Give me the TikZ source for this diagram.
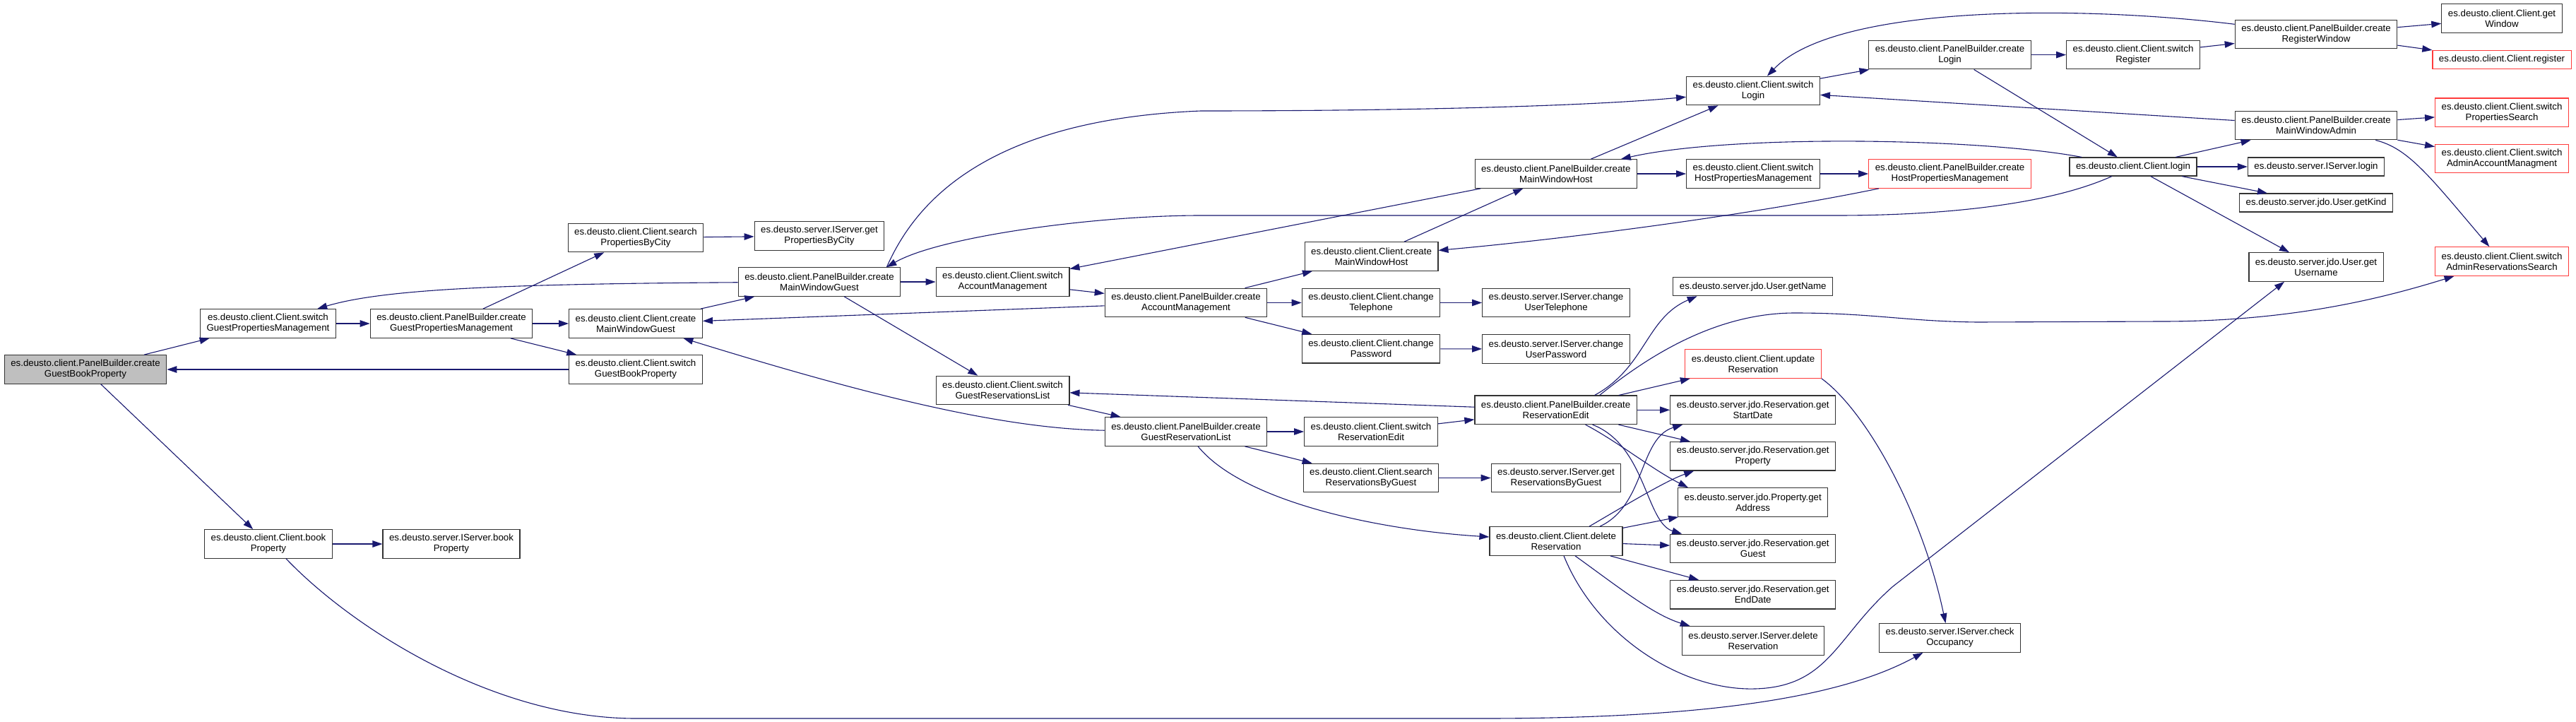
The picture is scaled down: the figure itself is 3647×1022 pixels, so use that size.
\documentclass[tikz,border=0pt]{standalone}
\usepackage{fontspec}
\setmainfont{Liberation Sans}
\usepackage{tikz}
\usetikzlibrary{arrows.meta}
\usepackage{xcolor}
\definecolor{callblue}{HTML}{191970}
\definecolor{linkred}{HTML}{FF3B3B}
\definecolor{rootgray}{HTML}{BFBFBF}
\definecolor{frame}{HTML}{333333}
\tikzset{
  fn/.style={draw=frame,fill=white,line width=1.2pt,align=center,
    font=\fontsize{13.3}{15}\selectfont,inner xsep=9pt,inner ysep=2pt,minimum height=40.5pt},
  fnone/.style={fn,minimum height=26pt},
  fnroot/.style={fn,fill=rootgray},
  fnmissing/.style={fn,draw=linkred},
  call/.style={-{Triangle[length=14pt,width=9.5pt]},draw=callblue,line width=1.1pt}
}

\begin{document}
\begin{tikzpicture}[x=1pt,y=-1pt]
  \path[fill=white] (0,0) rectangle (3647,1022);
  \useasboundingbox (0,0) rectangle (3647,1022);

  \node[fnroot] (pbGuestBook) at (121,523) {es.deusto.client.PanelBuilder.create\\GuestBookProperty};
  \node[fn] (swGuestProps) at (379.5,458) {es.deusto.client.Client.switch\\GuestPropertiesManagement};
  \node[fn] (pbGuestProps) at (639,458) {es.deusto.client.PanelBuilder.create\\GuestPropertiesManagement};
  \node[fn] (searchCity) at (900,336.5) {es.deusto.client.Client.search\\PropertiesByCity};
  \node[fn] (crGuest) at (900,458) {es.deusto.client.Client.create\\MainWindowGuest};
  \node[fn] (swGuestBook) at (900,523) {es.deusto.client.Client.switch\\GuestBookProperty};
  \node[fn] (bookProp) at (380,770) {es.deusto.client.Client.book\\Property};
  \node[fn] (srvBook) at (639,770) {es.deusto.server.IServer.book\\Property};
  \node[fn] (srvCity) at (1160,334) {es.deusto.server.IServer.get\\PropertiesByCity};
  \node[fn] (pbGuest) at (1160,399) {es.deusto.client.PanelBuilder.create\\MainWindowGuest};
  \node[fn] (swAccount) at (1419.5,399) {es.deusto.client.Client.switch\\AccountManagement};
  \node[fn] (pbAccount) at (1679,428.5) {es.deusto.client.PanelBuilder.create\\AccountManagement};
  \node[fn] (crHost) at (1941.5,363) {es.deusto.client.Client.create\\MainWindowHost};
  \node[fn] (chTel) at (1941,428.5) {es.deusto.client.Client.change\\Telephone};
  \node[fn] (chPass) at (1941,493.7) {es.deusto.client.Client.change\\Password};
  \node[fn] (swGuestRes) at (1419.5,552.5) {es.deusto.client.Client.switch\\GuestReservationsList};
  \node[fn] (pbGuestRes) at (1679,611) {es.deusto.client.PanelBuilder.create\\GuestReservationList};
  \node[fn] (swResEdit) at (1941,611) {es.deusto.client.Client.switch\\ReservationEdit};
  \node[fn] (searchRes) at (1941,676.5) {es.deusto.client.Client.search\\ReservationsByGuest};
  \node[fn] (srvResGuest) at (2203,676.5) {es.deusto.server.IServer.get\\ReservationsByGuest};
  \node[fn] (pbResEdit) at (2202.6,580.3) {es.deusto.client.PanelBuilder.create\\ReservationEdit};
  \node[fn] (delRes) at (2203,766) {es.deusto.client.Client.delete\\Reservation};
  \node[fn] (swLogin) at (2482,128.5) {es.deusto.client.Client.switch\\Login};
  \node[fn] (pbLogin) at (2760.5,77.6) {es.deusto.client.PanelBuilder.create\\Login};
  \node[fn] (pbHost) at (2202.8,246) {es.deusto.client.PanelBuilder.create\\MainWindowHost};
  \node[fn] (swHostProps) at (2482,246) {es.deusto.client.Client.switch\\HostPropertiesManagement};
  \node[fnmissing] (pbHostProps) at (2760.5,246) {es.deusto.client.PanelBuilder.create\\HostPropertiesManagement};
  \node[fnone] (login) at (3020,236) {es.deusto.client.Client.login};
  \node[fn] (swRegister) at (3020,77.6) {es.deusto.client.Client.switch\\Register};
  \node[fn] (pbRegister) at (3279,48.5) {es.deusto.client.PanelBuilder.create\\RegisterWindow};
  \node[fn] (getWindow) at (3542,26) {es.deusto.client.Client.get\\Window};
  \node[fnmissing,fnone,draw=linkred] (register) at (3542,84.3) {es.deusto.client.Client.register};
  \node[fn] (pbAdmin) at (3279,177.6) {es.deusto.client.PanelBuilder.create\\MainWindowAdmin};
  \node[fnmissing] (swPropSearch) at (3542,159.3) {es.deusto.client.Client.switch\\PropertiesSearch};
  \node[fnmissing] (swAdminAcc) at (3542,224.6) {es.deusto.client.Client.switch\\AdminAccountManagment};
  \node[fnone] (srvLogin) at (3279,236) {es.deusto.server.IServer.login};
  \node[fnone] (getKind) at (3279,287) {es.deusto.server.jdo.User.getKind};
  \node[fn] (getUsername) at (3279,378) {es.deusto.server.jdo.User.get\\Username};
  \node[fnmissing] (swAdminRes) at (3542,370) {es.deusto.client.Client.switch\\AdminReservationsSearch};
  \node[fn] (srvTel) at (2203,428.5) {es.deusto.server.IServer.change\\UserTelephone};
  \node[fn] (srvPass) at (2203,494) {es.deusto.server.IServer.change\\UserPassword};
  \node[fnone] (getName) at (2481.7,405.7) {es.deusto.server.jdo.User.getName};
  \node[fnmissing] (updRes) at (2482,515) {es.deusto.client.Client.update\\Reservation};
  \node[fn] (getStart) at (2481.7,580.3) {es.deusto.server.jdo.Reservation.get\\StartDate};
  \node[fn] (getProp) at (2481.7,645.8) {es.deusto.server.jdo.Reservation.get\\Property};
  \node[fn] (getAddr) at (2481.7,711) {es.deusto.server.jdo.Property.get\\Address};
  \node[fn] (getGuest) at (2481.7,776.5) {es.deusto.server.jdo.Reservation.get\\Guest};
  \node[fn] (getEnd) at (2481.7,841.7) {es.deusto.server.jdo.Reservation.get\\EndDate};
  \node[fn] (srvDel) at (2482,907) {es.deusto.server.IServer.delete\\Reservation};
  \node[fn] (checkOcc) at (2760.5,903) {es.deusto.server.IServer.check\\Occupancy};

  \draw[call] (pbGuestBook) -- (swGuestProps);
  \draw[call] (swGuestProps) -- (pbGuestProps);
  \draw[call] (pbGuestProps) -- (searchCity);
  \draw[call] (pbGuestProps) -- (crGuest);
  \draw[call] (pbGuestProps) -- (swGuestBook);
  \draw[call] (swGuestBook) -- (pbGuestBook);
  \draw[call] (pbGuestBook) -- (bookProp);
  \draw[call] (bookProp) -- (srvBook);
  \draw[call] (searchCity) -- (srvCity);
  \draw[call] (crGuest) -- (pbGuest);
  \draw[call] (pbGuest) .. controls (700,402) and (540,410) .. (swGuestProps);
  \draw[call] (pbGuest) -- (swAccount);
  \draw[call] (swAccount) -- (pbAccount);
  \draw[call] (pbAccount) -- (crGuest);
  \draw[call] (pbAccount) -- (crHost);
  \draw[call] (pbAccount) -- (chTel);
  \draw[call] (pbAccount) -- (chPass);
  \draw[call] (chTel) -- (srvTel);
  \draw[call] (chPass) -- (srvPass);
  \draw[call] (pbGuest) -- (swGuestRes);
  \draw[call] (swGuestRes) -- (pbGuestRes);
  \draw[call] (pbGuestRes) .. controls (1420,607) and (1230,560) .. (crGuest);
  \draw[call] (pbGuestRes) -- (swResEdit);
  \draw[call] (pbGuestRes) -- (searchRes);
  \draw[call] (pbGuestRes) .. controls (1760,710) and (1950,750) .. (delRes);
  \draw[call] (searchRes) -- (srvResGuest);
  \draw[call] (swResEdit) -- (pbResEdit);
  \draw[call] (pbResEdit) -- (swGuestRes);
  \draw[call] ([xshift=-20pt]pbGuest.north east) .. controls (1290,300) and (1380,170) .. (1700,157)
    .. controls (2000,157) and (2250,150) .. (swLogin);
  \draw[call] (login) .. controls (2900,290) and (2750,305) .. (2600,305) -- (1700,305)
    .. controls (1550,305) and (1330,335) .. ([xshift=-20pt]pbGuest.north east);

  \draw[call] (crHost) -- (pbHost);
  \draw[call] (pbHost) -- (swAccount);
  \draw[call] (pbHost) -- (swLogin);
  \draw[call] (pbHost) -- (swHostProps);
  \draw[call] (swHostProps) -- (pbHostProps);
  \draw[call] (pbHostProps) .. controls (2500,300) and (2250,335) .. (crHost);
  \draw[call] (swLogin) -- (pbLogin);
  \draw[call] (pbLogin) -- (swRegister);
  \draw[call] (pbLogin) -- (login);
  \draw[call] (login) .. controls (2800,195) and (2450,190) .. (pbHost);
  \draw[call] (swRegister) -- (pbRegister);
  \draw[call] (pbRegister) -- (getWindow);
  \draw[call] (pbRegister) -- (register);
  \draw[call] (pbRegister) .. controls (2950,8) and (2600,5) .. (swLogin);
  \draw[call] (login) -- (pbAdmin);
  \draw[call] (pbAdmin) -- (swLogin);
  \draw[call] (pbAdmin) -- (swPropSearch);
  \draw[call] (pbAdmin) -- (swAdminAcc);
  \draw[call] (pbAdmin) .. controls (3410,210) and (3440,250) .. (swAdminRes);
  \draw[call] (login) -- (srvLogin);
  \draw[call] (login) -- (getKind);
  \draw[call] (login) -- (getUsername);

  \draw[call] ([xshift=55pt]pbResEdit.north) .. controls (2330,520) and (2330,450) .. ([xshift=-79pt]getName.south);
  \draw[call] ([xshift=62pt]pbResEdit.north) .. controls (2320,515) and (2420,443) .. (2541,443)
    .. controls (2650,443) and (2700,455) .. (2800,456) -- (3060,455)
    .. controls (3250,455) and (3380,420) .. (swAdminRes);
  \draw[call] (pbResEdit) -- (updRes);
  \draw[call] (pbResEdit) -- (getStart);
  \draw[call] (pbResEdit) -- (getProp);
  \draw[call] ([xshift=42pt]pbResEdit.south) .. controls (2290,625) and (2340,665) .. ([xshift=15pt]getAddr.north west);
  \draw[call] ([xshift=52pt]pbResEdit.south) .. controls (2330,630) and (2330,740) .. ([xshift=17pt]getGuest.north west);

  \draw[call] ([xshift=62pt]delRes.north) .. controls (2330,715) and (2320,620) .. ([xshift=18pt]getStart.south west);
  \draw[call] ([xshift=47pt]delRes.north) .. controls (2310,710) and (2360,680) .. ([xshift=34pt]getProp.south west);
  \draw[call] (delRes) -- (getAddr);
  \draw[call] (delRes) -- (getGuest);
  \draw[call] (delRes) -- (getEnd);
  \draw[call] ([xshift=27pt]delRes.south) .. controls (2290,830) and (2340,870) .. ([xshift=12pt]srvDel.north west);
  \draw[call] ([xshift=11pt]delRes.south) .. controls (2260,900) and (2380,978) .. (2485,975)
    .. controls (2590,972) and (2600,900) .. (2680,830) -- ([xshift=-45pt]getUsername.south);
  \draw[call] (updRes.south east) .. controls (2640,580) and (2720,720) .. ([xshift=-6pt]checkOcc.north);
  \draw[call] ([xshift=25pt]bookProp.south) .. controls (500,890) and (700,1017) .. (900,1017) -- (2100,1017)
    .. controls (2450,1017) and (2620,980) .. (checkOcc);
\end{tikzpicture}
\end{document}
